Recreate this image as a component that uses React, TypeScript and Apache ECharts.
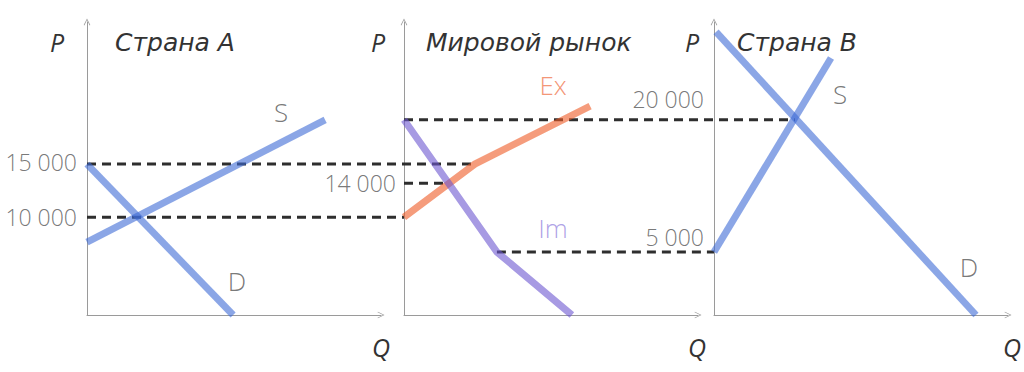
import React, { useEffect, useRef } from "react";
import * as echarts from "echarts";

// ---- Data (schematic units: Q 0..100, P 0..100 per panel) ----
const priceLabels = ["20 000", "15 000", "14 000", "10 000", "5 000"];
const priceLevels = [66.6, 51.5, 45, 33.4, 21.5];
const [P20, P15, P14, P10, P5] = priceLevels;

const supplyA = [[0, 24.9], [81, 66.6]];
const demandA = [[0, P15], [49.7, 0]];
const exportW = [[0, P10], [24.1, P15], [63.3, 71.3]];
const importW = [[0, P20], [31.6, P5], [57.1, 0]];
const supplyB = [[0, P5], [39.8, 87.7]];
const demandB = [[0.7, 96.6], [89.1, 0]];

// intersections / kinks (Q values inside their panel)
const qKinkEx = 24.1; // Ex kink at 15 000
const qWorldEq = 15.2; // Ex x Im at 14 000
const qKinkIm = 31.6; // Im kink at 5 000
const qEqB = 27.5; // S x D in country B at 20 000

const titles = ["Страна A", "Мировой рынок", "Страна B"];
const curveLabels = [
  { grid: 0, name: "S", value: [66, 69.3], color: "#555" },
  { grid: 0, name: "D", value: [51, 11.6], color: "#555" },
  { grid: 1, name: "Ex", value: [50.7, 78.5], color: "#f07a52" },
  { grid: 1, name: "Im", value: [50.7, 29.7], color: "#9a8ae0" },
  { grid: 2, name: "S", value: [42.9, 75.4], color: "#555" },
  { grid: 2, name: "D", value: [86.7, 16.4], color: "#555" },
];

// ---- Layout ----
const GRID_TOP = 22;
const GRID_H = 293;
const GRID_W = 294;
const LEFTS = [87, 404, 714];
const PX_PER_Q = GRID_W / 100;
const panelOffset = (i: number) => (LEFTS[i] - LEFTS[0]) / PX_PER_Q; // in Q units
const OVERLAY_MAX = panelOffset(2) + 100;

const FONT = "'Open Sans', 'Noto Sans', sans-serif";
const TITLE_FONT = "'DejaVu Sans', 'Open Sans', sans-serif";
const BLUE = "rgba(61,107,214,0.6)";
const ORANGE = "rgba(238,90,36,0.6)";
const PURPLE = "rgba(109,86,208,0.6)";
const DASH = "#2e2e2e";
const AXIS = "#9a9a9a";
const CHEVRON = "path://M0,10 L5,0 L10,10 L9,10.6 L5,2.2 L1,10.6 Z";

export default function App() {
  const ref = useRef<HTMLDivElement>(null);
  useEffect(() => {
    if (!ref.current) return;
    const chart = echarts.init(ref.current, undefined, { renderer: "svg" });

    const grids: any[] = LEFTS.map((l) => ({ left: l, top: GRID_TOP, width: GRID_W, height: GRID_H }));
    // overlay grid spanning all three panels (for cross-panel dashed guides)
    grids.push({ left: LEFTS[0], top: GRID_TOP, width: OVERLAY_MAX * PX_PER_Q, height: GRID_H });

    const axisCommon = {
      type: "value",
      min: 0,
      max: 100,
      axisLine: {
        show: true,
        lineStyle: { color: AXIS, width: 1 },
        symbol: ["none", CHEVRON],
        symbolSize: [9, 7],
      },
      axisTick: { show: false },
      axisLabel: { show: false },
      splitLine: { show: false },
    };
    const xAxes: any[] = LEFTS.map((_, i) => ({ ...axisCommon, gridIndex: i }));
    const yAxes: any[] = LEFTS.map((_, i) => ({ ...axisCommon, gridIndex: i }));
    const hidden = { type: "value", gridIndex: 3, min: 0, show: false, splitLine: { show: false } };
    xAxes.push({ ...hidden, max: OVERLAY_MAX });
    yAxes.push({ ...hidden, max: 100 });

    const dashed = (panel: number, q0: number, panel1: number, q1: number, p: number) => ({
      type: "line",
      xAxisIndex: 3,
      yAxisIndex: 3,
      symbol: "none",
      silent: true,
      z: 1,
      lineStyle: { color: DASH, width: 3, type: [9, 6] },
      data: [[panelOffset(panel) + q0, p], [panelOffset(panel1) + q1, p]],
    });
    const curve = (grid: number, data: number[][], color: string) => ({
      type: "line",
      xAxisIndex: grid,
      yAxisIndex: grid,
      symbol: "none",
      silent: true,
      z: 2,
      lineStyle: { color, width: 7, cap: "butt", join: "miter" },
      data,
    });
    const priceLabel = (grid: number, idx: number, dist: number, dy: number) => ({
      type: "scatter",
      xAxisIndex: grid,
      yAxisIndex: grid,
      symbolSize: 0,
      silent: true,
      z: 3,
      label: {
        show: true,
        position: "left",
        distance: dist,
        offset: [0, dy],
        formatter: priceLabels[idx],
        color: "#555",
        fontFamily: FONT,
        fontWeight: 300,
        fontSize: 23,
      },
      data: [[0, priceLevels[idx]]],
    });

    const series: any[] = [
      dashed(0, 0, 1, qKinkEx, P15),
      dashed(0, 0, 1, 0, P10),
      dashed(1, 0, 1, qWorldEq, P14),
      dashed(1, 0, 2, qEqB, P20),
      dashed(1, qKinkIm, 2, 0, P5),
      curve(0, supplyA, BLUE),
      curve(0, demandA, BLUE),
      curve(1, exportW, ORANGE),
      curve(1, importW, PURPLE),
      curve(2, supplyB, BLUE),
      curve(2, demandB, BLUE),
      priceLabel(0, 1, 10, -2),
      priceLabel(0, 3, 10, 0),
      priceLabel(1, 2, 8, 0),
      priceLabel(2, 0, 10, -21),
      priceLabel(2, 4, 10, -15),
      ...curveLabels.map((c) => ({
        type: "scatter",
        xAxisIndex: c.grid,
        yAxisIndex: c.grid,
        symbolSize: 0,
        silent: true,
        z: 3,
        label: {
          show: true,
          position: "inside",
          formatter: c.name,
          color: c.color,
          fontFamily: FONT,
          fontWeight: 300,
          fontSize: 26,
        },
        data: [c.value],
      })),
    ];

    const pCenters = [57, 378, 692];
    const titleLefts = [115, 426, 737];
    const qCenters = [381, 697, 1012];
    const graphic: any[] = [];
    LEFTS.forEach((_, i) => {
      graphic.push({
        type: "text",
        x: pCenters[i],
        y: 42,
        style: { text: "P", fill: "#333", font: `italic 400 25px ${FONT}`, textAlign: "center", textVerticalAlign: "middle" },
      });
      graphic.push({
        type: "text",
        x: titleLefts[i],
        y: 42,
        style: { text: titles[i], fill: "#333", font: `italic 400 25px ${TITLE_FONT}`, textAlign: "left", textVerticalAlign: "middle" },
      });
      graphic.push({
        type: "text",
        x: qCenters[i],
        y: 347,
        style: { text: "Q", fill: "#333", font: `italic 400 25px ${FONT}`, textAlign: "center", textVerticalAlign: "middle" },
      });
    });

    chart.setOption({
      animation: false,
      backgroundColor: "#fff",
      grid: grids,
      xAxis: xAxes,
      yAxis: yAxes,
      series,
      graphic,
    });
    return () => chart.dispose();
  }, []);
  return (
    <div
      ref={ref}
      style={{ position: "fixed", left: 0, top: 0, width: 1024, height: 372 }}
    />
  );
}
